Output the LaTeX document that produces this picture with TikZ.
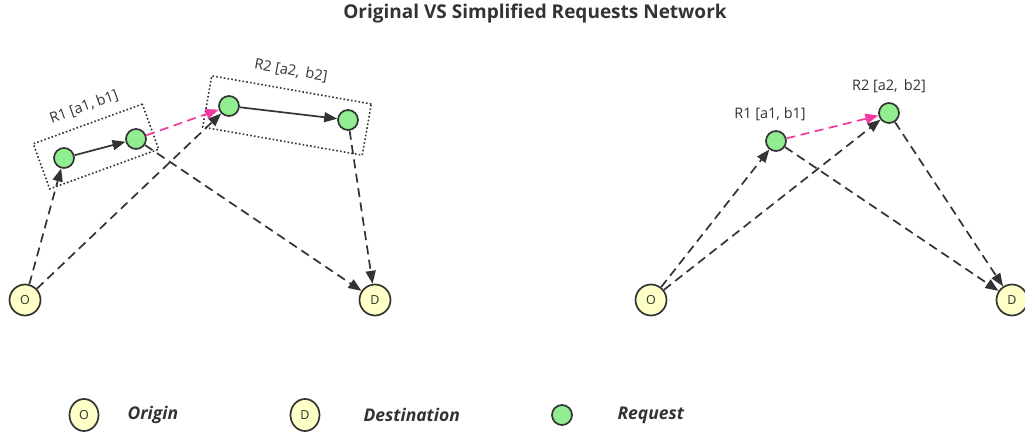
\documentclass[tikz,border=0pt]{standalone}
\usepackage{fontspec}
\setmainfont{Open Sans}
\usetikzlibrary{arrows.meta,shapes.geometric}
\definecolor{ink}{HTML}{333333}
\definecolor{reqfill}{HTML}{90EE90}
\definecolor{odfill}{HTML}{FFFFC8}
\definecolor{pinkline}{HTML}{F23A9E}
\tikzset{
  odnode/.style={circle, draw=ink, line width=1.7pt, fill=odfill, minimum size=31pt, inner sep=0pt, font=\fontsize{12.5}{12.5}\selectfont, text=ink},
  reqnode/.style={circle, draw=ink, line width=1.7pt, fill=reqfill, minimum size=20pt, inner sep=0pt},
  dashedge/.style={draw=ink, line width=1.7pt, dash pattern=on 9pt off 5.5pt, -{Triangle[length=13pt,width=10pt]}},
  solidedge/.style={draw=ink, line width=1.7pt, -{Triangle[length=13pt,width=10pt]}},
  pinkedge/.style={draw=pinkline, line width=1.7pt, dash pattern=on 9pt off 5.5pt, -{Triangle[length=13pt,width=10pt]}},
  groupbox/.style={draw=ink, line width=1.6pt, dash pattern=on 1.6pt off 2.2pt, inner sep=0pt},
  rlabel/.style={font=\fontsize{14.5}{14.5}\selectfont, text=ink},
  legendtext/.style={font=\fontsize{17.5}{17.5}\selectfont\bfseries\itshape, text=ink, anchor=west},
  legod/.style={ellipse, draw=ink, line width=1.7pt, fill=odfill, minimum width=29pt, minimum height=32pt, inner sep=0pt, font=\fontsize{12.5}{12.5}\selectfont, text=ink},
}
\begin{document}
\begin{tikzpicture}[x=1pt,y=-1pt]
\useasboundingbox (0,0) rectangle (1025,435);
\clip (0,0) rectangle (1025,435);
\node[font=\fontsize{19}{19}\selectfont\bfseries, text=ink] (title) at (535,14) {Original VS Simplified Requests Network};

% ---------- left: original ----------
\node[groupbox, rotate=20, minimum width=116pt, minimum height=48pt] (box1) at (96,146.5) {};
\node[groupbox, rotate=-10, minimum width=162pt, minimum height=52pt] (box2) at (287,115.5) {};
\node[rlabel, rotate=20] (lab1) at (84,107) {R1 [a1, b1]};
\node[rlabel, rotate=-10] (lab2) at (291,71) {R2 [a2,\, b2]};

\node[odnode] (O1) at (25,300) {O};
\node[odnode] (D1) at (375,300) {D};
\node[reqnode] (r1a) at (64,158) {};
\node[reqnode] (r1b) at (136,139) {};
\node[reqnode] (r2a) at (229,106) {};
\node[reqnode] (r2b) at (348,120) {};

\draw[dashedge] (O1) -- (r1a);
\draw[dashedge] (O1) -- (r2a);
\draw[solidedge] (r1a) -- (r1b);
\draw[pinkedge] (r1b) -- (r2a);
\draw[solidedge] (r2a) -- (r2b);
\draw[dashedge] (r1b) -- (D1);
\draw[dashedge] (r2b) -- (D1);

% ---------- right: simplified ----------
\node[odnode] (O2) at (651,300) {O};
\node[odnode] (D2) at (1012,300) {D};
\node[reqnode] (s1) at (776,141) {};
\node[reqnode] (s2) at (889,113) {};
\node[rlabel] (slab1) at (770,114) {R1 [a1, b1]};
\node[rlabel] (slab2) at (889,86) {R2 [a2,\, b2]};

\draw[dashedge] (O2) -- (s1);
\draw[dashedge] (O2) -- (s2);
\draw[pinkedge] (s1) -- (s2);
\draw[dashedge] (s1) -- (D2);
\draw[dashedge] (s2) -- (D2);

% ---------- legend ----------
\node[legod] (legO) at (84,415) {O};
\node[legendtext] (legOt) at (124,415) {Origin};
\node[legod] (legD) at (305,415) {D};
\node[legendtext] (legDt) at (360,415) {Destination};
\node[reqnode] (legR) at (562,415) {};
\node[legendtext] (legRt) at (614,415) {Request};
\end{tikzpicture}
\end{document}
